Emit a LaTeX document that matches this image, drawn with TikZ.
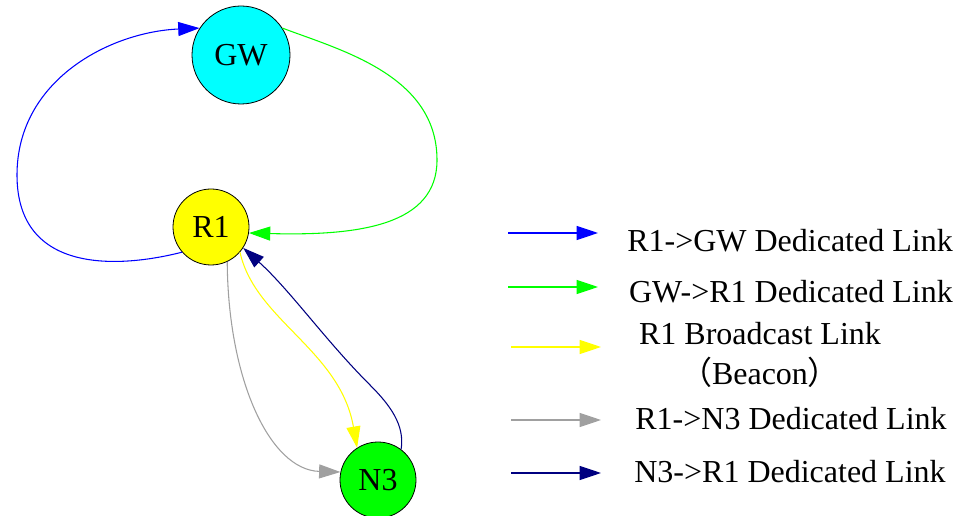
\documentclass[tikz,border=0pt]{standalone}
\usepackage{fontspec}
\setmainfont{LiberationSerif}[Extension=.ttf,UprightFont=*-Regular]
\newfontfamily\cjk{Noto Sans CJK SC}
\usepackage{tikz}
\usetikzlibrary{arrows.meta}
\definecolor{gwfill}{RGB}{0,255,255}
\definecolor{rfill}{RGB}{255,255,0}
\definecolor{nfill}{RGB}{0,255,0}
\definecolor{upblue}{RGB}{0,0,255}
\definecolor{downgreen}{RGB}{0,255,0}
\definecolor{bcyellow}{RGB}{255,255,0}
\definecolor{dngray}{RGB}{160,160,160}
\definecolor{upnavy}{RGB}{0,0,128}

\begin{document}
\begin{tikzpicture}[x=0.75pt,y=-0.75pt,font=\rmfamily\fontsize{24}{28}\selectfont,
  hub/.style={circle,draw=black,line width=0.6pt,inner sep=0pt},
  link/.style={line width=0.8pt,-{Triangle[length=16pt,width=10.5pt]}}]
\useasboundingbox (0,0) rectangle (971,516);
% Nodes
\node[hub,fill=gwfill,minimum size=73.5pt] (gw) at (241,55) {GW};
\node[hub,fill=rfill,minimum size=57pt] (r1) at (211,227) {R1};
\node[hub,fill=nfill,minimum size=57pt] (n3) at (378,480) {N3};
% Links
\draw[link,upblue] (r1.221) .. controls (120,268) and (17,275) .. (17,175)
  .. controls (17,80) and (110,32) .. (gw.147);
\draw[link,downgreen] (gw.33) .. controls (340,50) and (437,75) .. (437,160)
  .. controls (437,225) and (360,236) .. (r1.-9);
\draw[link,bcyellow] (r1.-41) .. controls (255,320) and (340,350) .. (n3.123);
\draw[link,dngray] (r1.-65) .. controls (228,380) and (270,470) .. (n3.168);
\draw[link,upnavy] (n3.53) .. controls (405,425) and (390,405) .. (370,385)
  .. controls (325,340) and (290,290) .. (r1.-33);
% Legend
\coordinate (k1a) at (508,233); \coordinate (k1b) at (598,233);
\coordinate (k2a) at (508,287); \coordinate (k2b) at (598,287);
\coordinate (k3a) at (511,347); \coordinate (k3b) at (601,347);
\coordinate (k4a) at (511,420); \coordinate (k4b) at (601,420);
\coordinate (k5a) at (511,473); \coordinate (k5b) at (601,473);
\draw[link,upblue] (k1a) -- (k1b);
\draw[link,downgreen] (k2a) -- (k2b);
\draw[link,bcyellow] (k3a) -- (k3b);
\draw[link,dngray] (k4a) -- (k4b);
\draw[link,upnavy] (k5a) -- (k5b);
\node[anchor=base] (t1) at (790,252) {R1->GW Dedicated Link};
\node[anchor=base] (t2) at (791,303) {GW->R1 Dedicated Link};
\node[anchor=base] (t3) at (760,345) {R1 Broadcast Link};
\node[anchor=base] (t3b) at (760,385) {{\cjk （}Beacon{\cjk ）}};
\node[anchor=base] (t4) at (791,430) {R1->N3 Dedicated Link};
\node[anchor=base] (t5) at (790,483) {N3->R1 Dedicated Link};
\end{tikzpicture}
\end{document}
